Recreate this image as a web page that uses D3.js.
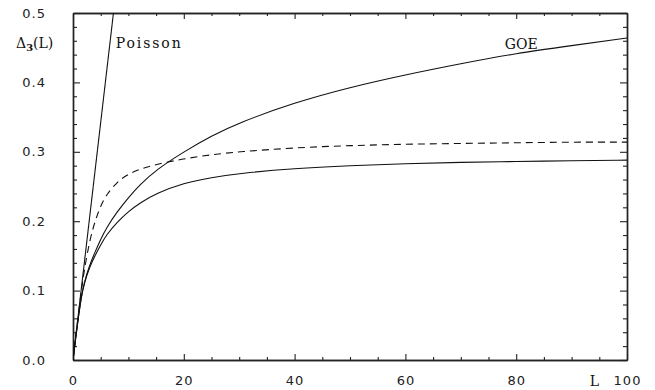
<!DOCTYPE html>
<html>
<head>
<meta charset="utf-8">
<script src="https://cdn.jsdelivr.net/npm/d3@7"></script>
<style>
  body { margin: 0; background: #fff; }
  .tick text { font-family: "DejaVu Sans", sans-serif; font-size: 13px; letter-spacing: 1px; fill: #222; }
  .tick line, .domain { stroke: #222; }
  .curve { fill: none; stroke: #111; stroke-width: 1.1px; }
  .lab { font-family: "DejaVu Serif", serif; font-size: 14px; fill: #111; }
</style>
</head>
<body>
<div id="chart"></div>
<script>
// values
var lValues = [0, 0.5, 1, 1.5, 2, 3, 4, 5, 6, 8, 10, 12, 15, 20, 25, 30, 40, 50, 60, 70, 80, 90, 100];
var goeValues = [0, 0.033, 0.064, 0.091, 0.111, 0.137, 0.156, 0.174, 0.19, 0.214, 0.234, 0.252, 0.274, 0.3, 0.323, 0.342, 0.371, 0.393, 0.411, 0.427, 0.442, 0.453, 0.464];
var dashedValues = [0, 0.034, 0.067, 0.1, 0.128, 0.172, 0.201, 0.222, 0.238, 0.257, 0.268, 0.275, 0.282, 0.29, 0.296, 0.3, 0.306, 0.309, 0.311, 0.312, 0.313, 0.314, 0.314];
var lowerValues = [0, 0.033, 0.063, 0.091, 0.11, 0.134, 0.151, 0.166, 0.18, 0.199, 0.214, 0.226, 0.24, 0.255, 0.263, 0.269, 0.276, 0.28, 0.283, 0.285, 0.286, 0.287, 0.288];
var poissonL = [0, 7.3];
var poissonValues = [0, 0.5];

var xTicks = [0, 20, 40, 60, 80, 100];
var yTicks = [0, 0.1, 0.2, 0.3, 0.4, 0.5];

var width = 655, height = 390;
var margin = {top: 13, right: 28, bottom: 30, left: 73};

var x = d3.scaleLinear().domain([0, 100]).range([margin.left, width - margin.right]);
var y = d3.scaleLinear().domain([0, 0.5]).range([height - margin.bottom, margin.top]);

var svg = d3.select("#chart").append("svg").attr("width", width).attr("height", height);

svg.append("defs").append("clipPath").attr("id", "plot")
  .append("rect")
    .attr("x", x(0)).attr("y", y(0.5))
    .attr("width", x(100) - x(0)).attr("height", y(0) - y(0.5));

var minorX = d3.range(0, 101, 5).filter(function(d) { return d % 20 !== 0; });
var minorY = d3.range(0, 51, 2).map(function(d) { return d / 100; }).filter(function(d) { return Math.round(d * 100) % 10 !== 0; });

function frame(g) {
  g.selectAll(".domain").attr("stroke-width", 1.4);
  g.selectAll(".tick line").attr("stroke-width", 1.1);
}

// bottom
svg.append("g").attr("transform", "translate(0," + y(0) + ")")
  .call(d3.axisBottom(x).tickValues(xTicks).tickSize(-6).tickPadding(16).tickSizeOuter(0))
  .call(frame);
svg.append("g").attr("transform", "translate(0," + y(0) + ")")
  .call(d3.axisBottom(x).tickValues(minorX).tickSize(-3).tickFormat("").tickSizeOuter(0))
  .call(frame);
// top
svg.append("g").attr("transform", "translate(0," + y(0.5) + ")")
  .call(d3.axisTop(x).tickValues(xTicks).tickSize(-6).tickFormat("").tickSizeOuter(0))
  .call(frame);
svg.append("g").attr("transform", "translate(0," + y(0.5) + ")")
  .call(d3.axisTop(x).tickValues(minorX).tickSize(-3).tickFormat("").tickSizeOuter(0))
  .call(frame);
// left
svg.append("g").attr("transform", "translate(" + x(0) + ",0)")
  .call(d3.axisLeft(y).tickValues(yTicks).tickSize(-7).tickPadding(27).tickFormat(d3.format(".1f")).tickSizeOuter(0))
  .call(frame);
svg.append("g").attr("transform", "translate(" + x(0) + ",0)")
  .call(d3.axisLeft(y).tickValues(minorY).tickSize(-4).tickFormat("").tickSizeOuter(0))
  .call(frame);
// right
svg.append("g").attr("transform", "translate(" + x(100) + ",0)")
  .call(d3.axisRight(y).tickValues(yTicks).tickSize(-7).tickFormat("").tickSizeOuter(0))
  .call(frame);
svg.append("g").attr("transform", "translate(" + x(100) + ",0)")
  .call(d3.axisRight(y).tickValues(minorY).tickSize(-4).tickFormat("").tickSizeOuter(0))
  .call(frame);

var line = d3.line()
  .x(function(d) { return x(d[0]); })
  .y(function(d) { return y(d[1]); })
  .curve(d3.curveBasis);

function pairs(xs, ys) { return xs.map(function(v, i) { return [v, ys[i]]; }); }

var plot = svg.append("g").attr("clip-path", "url(#plot)");

plot.append("path").attr("class", "curve").attr("d", line(pairs(poissonL, poissonValues)));
plot.append("path").attr("class", "curve").attr("d", line(pairs(lValues, goeValues)));
plot.append("path").attr("class", "curve").attr("d", line(pairs(lValues, lowerValues)));
plot.append("path").attr("class", "curve")
  .attr("stroke-dasharray", "7,5")
  .attr("d", line(pairs(lValues, dashedValues)));

// labels
svg.append("text").attr("class", "lab")
  .attr("x", x(7.7)).attr("y", y(0.45))
  .attr("textLength", 65).attr("lengthAdjust", "spacing")
  .text("Poisson");

svg.append("text").attr("class", "lab")
  .attr("x", x(80.9)).attr("y", y(0.448))
  .attr("text-anchor", "middle")
  .text("GOE");

var ylab = svg.append("text").attr("class", "lab")
  .attr("x", 16).attr("y", y(0.45));
ylab.append("tspan").text("Δ");
ylab.append("tspan").attr("dy", 3).style("font-size", "10px").style("font-weight", "bold").text("3");
ylab.append("tspan").attr("dy", -3).text("(L)");

svg.append("text").attr("class", "lab")
  .attr("x", x(94.1)).attr("y", y(0) + 26)
  .attr("text-anchor", "middle")
  .text("L");
</script>
</body>
</html>
